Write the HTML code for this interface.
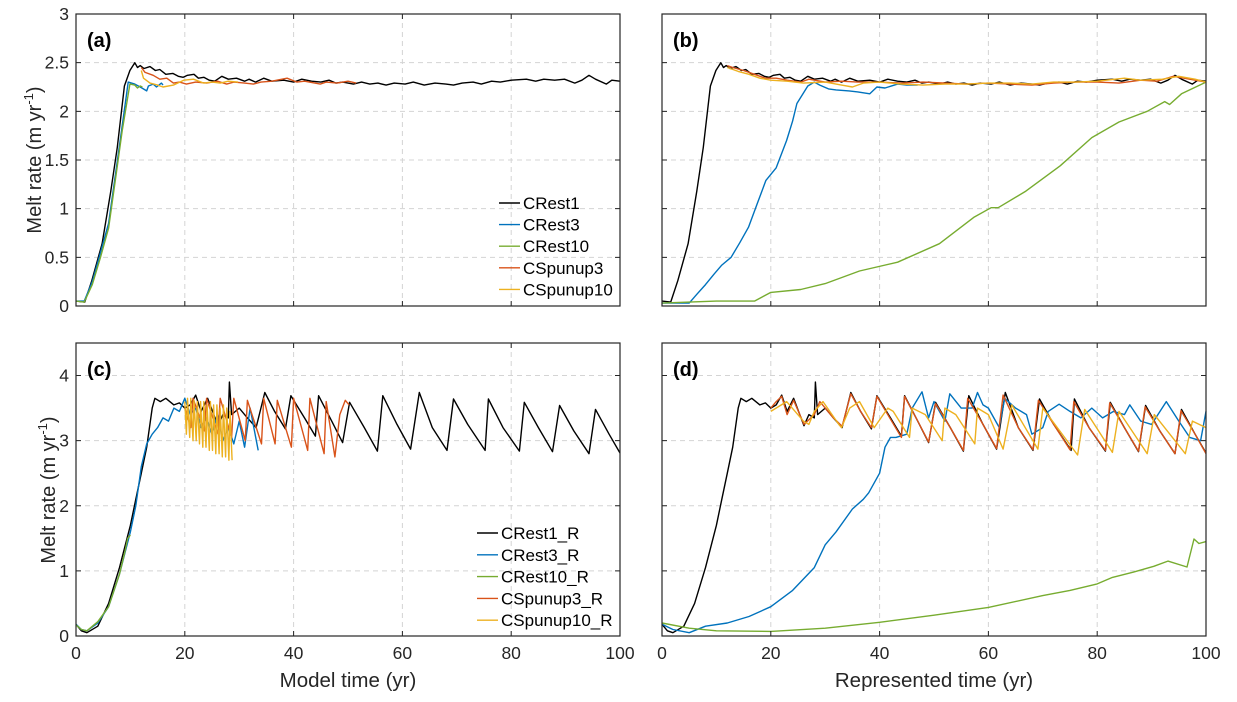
<!DOCTYPE html>
<html><head><meta charset="utf-8"><style>
html,body{margin:0;padding:0;background:#fff;}
svg{display:block;font-family:"Liberation Sans",Arial,sans-serif;}
</style></head><body>
<svg id="fig" width="1237" height="702" viewBox="0 0 1237 702" xmlns="http://www.w3.org/2000/svg">
<rect x="0" y="0" width="1237" height="702" fill="#fff"/>
<g id="grids"></g>
<g id="series"></g>
<g id="axes"></g>
<text transform="translate(41,160) rotate(-90)" text-anchor="middle" font-size="20" fill="#262626">Melt rate (m yr<tspan dy="-8" font-size="13">-1</tspan><tspan dy="8">)</tspan></text>
<text transform="translate(55,490) rotate(-90)" text-anchor="middle" font-size="20" fill="#262626">Melt rate (m yr<tspan dy="-8" font-size="13">-1</tspan><tspan dy="8">)</tspan></text>
<text x="348" y="687" text-anchor="middle" font-size="20.5" fill="#262626">Model time (yr)</text>
<text x="934" y="687" text-anchor="middle" font-size="20.5" fill="#262626">Represented time (yr)</text>
<text x="87" y="47" font-size="20" font-weight="bold" fill="#000">(a)</text>
<text x="673" y="47" font-size="20" font-weight="bold" fill="#000">(b)</text>
<text x="87" y="376" font-size="20" font-weight="bold" fill="#000">(c)</text>
<text x="673" y="376" font-size="20" font-weight="bold" fill="#000">(d)</text>
<g id="legends"></g>
</svg>
<script>
// ---- data ----
const xTicks = [0,20,40,60,80,100];
const xTickLabels = ["0","20","40","60","80","100"];
const yTicksTop = [0,0.5,1,1.5,2,2.5,3];
const yTickLabelsTop = ["0","0.5","1","1.5","2","2.5","3"];
const yTicksBottom = [0,1,2,3,4];
const yTickLabelsBottom = ["0","1","2","3","4"];
const legendTop = ["CRest1","CRest3","CRest10","CSpunup3","CSpunup10"];
const legendBottom = ["CRest1_R","CRest3_R","CRest10_R","CSpunup3_R","CSpunup10_R"];

const cRest1 = [[0,0.05],[1.6,0.04],[2.9,0.26],[4.8,0.64],[6.4,1.18],[7.6,1.63],[8.9,2.26],[9.9,2.42],[10.8,2.5],[11.3,2.45],[11.8,2.47],[12.5,2.44],[13.6,2.46],[14.6,2.42],[15.4,2.43],[16.5,2.38],[17.8,2.39],[18.8,2.36],[19.7,2.35],[20.5,2.37],[21.7,2.38],[22.5,2.34],[23.5,2.35],[24.5,2.32],[25.5,2.31],[26.8,2.36],[28,2.33],[29.5,2.34],[31,2.31],[31.8,2.33],[33,2.3],[34.5,2.34],[36,2.31],[38.2,2.32],[40,2.3],[41.5,2.33],[43.3,2.31],[45,2.3],[46.5,2.32],[47.8,2.29],[49,2.3],[51,2.28],[52.5,2.3],[54,2.28],[55.5,2.29],[57,2.27],[58.5,2.29],[60.5,2.28],[62,2.3],[64,2.27],[66,2.29],[68,2.28],[69.4,2.27],[71,2.29],[73,2.3],[74.5,2.28],[76.4,2.31],[78,2.3],[80,2.32],[82.8,2.33],[84.5,2.31],[86,2.33],[88,2.32],[89.8,2.33],[91.7,2.29],[93,2.32],[94.3,2.37],[95.5,2.33],[97.5,2.28],[98.5,2.32],[100,2.31]];
const cRest3A = [[0,0.05],[1.5,0.05],[3,0.25],[4.5,0.55],[6,0.85],[7.5,1.45],[8.5,1.85],[9.6,2.3],[10.8,2.28],[11.8,2.25],[13,2.21],[13.3,2.26],[14.2,2.28],[14.8,2.25],[15.7,2.29],[16,2.27]];
const cRest10A = [[0,0.05],[1.5,0.04],[3,0.22],[4.5,0.5],[6,0.8],[7.5,1.4],[8.5,1.8],[9.9,2.28],[10.8,2.27],[11.3,2.24],[11.8,2.26],[12.2,2.25]];
const cSpunup3A = [[12,2.45],[12.7,2.4],[14.2,2.37],[15.4,2.33],[16.7,2.34],[17.9,2.29],[19,2.3],[20.3,2.28],[22,2.3],[24,2.29],[26,2.31],[27.7,2.28],[29,2.3],[31,2.29],[32.6,2.28],[34,2.3],[36,2.31],[38.8,2.34],[40.6,2.3],[42,2.31],[44.9,2.28],[46,2.3],[48,2.29],[50,2.31],[51.5,2.29]];
const cSpunup10A = [[12,2.42],[12.4,2.34],[13.6,2.29],[15,2.27],[16,2.25],[17.9,2.27],[19.8,2.32],[21.6,2.33],[23.5,2.29],[25,2.3],[26.5,2.29],[28,2.31],[29.8,2.3]];
const cRest3B = [[0,0.03],[5,0.03],[6.4,0.12],[8,0.22],[9.6,0.33],[11,0.42],[12.7,0.5],[14.3,0.65],[15.9,0.81],[17.5,1.05],[19.1,1.29],[21,1.42],[22.9,1.7],[24,1.9],[24.8,2.08],[26.8,2.26],[28,2.3],[29,2.27],[30.6,2.23],[32,2.22],[34.4,2.21],[36,2.2],[38.2,2.18],[39.5,2.25],[41,2.24],[43.3,2.28],[45,2.27],[47,2.27]];
const cRest10B = [[0,0.03],[10,0.05],[17,0.05],[20,0.14],[25.5,0.17],[30,0.23],[36.3,0.36],[43.3,0.45],[51,0.64],[57.3,0.91],[60.5,1.01],[61.8,1.01],[66.9,1.18],[73.2,1.44],[79,1.73],[84,1.89],[89.2,2.0],[92.4,2.1],[93.3,2.07],[95.5,2.18],[100,2.3]];
const cSpunup3B = [[12,2.47],[13,2.45],[15,2.42],[17,2.38],[19,2.34],[21,2.34],[23,2.32],[25.5,2.3],[27,2.33],[30,2.3],[33,2.31],[36,2.3],[40,2.3],[44,2.29],[48,2.3],[52,2.29],[56,2.28],[60,2.29],[64,2.28],[68,2.27],[72,2.29],[76,2.3],[80,2.3],[84,2.29],[88,2.32],[91,2.31],[94,2.36],[97,2.33],[100,2.3]];
const cSpunup10B = [[12,2.45],[14,2.41],[16,2.38],[18,2.34],[20,2.32],[23,2.31],[26,2.29],[30,2.3],[33,2.27],[35,2.25],[37,2.29],[40,2.3],[44,2.28],[48,2.27],[52,2.28],[56,2.28],[60,2.29],[64,2.29],[68,2.28],[72,2.3],[76,2.3],[80,2.31],[85,2.34],[88,2.32],[92,2.33],[95,2.36],[98,2.33],[100,2.3]];

const cRest1R = [[0,0.18],[1,0.08],[2,0.05],[4,0.15],[6,0.5],[8,1.05],[10,1.7],[11,2.1],[12,2.5],[13,2.9],[14,3.5],[14.5,3.65],[15.5,3.6],[16.5,3.65],[18,3.55],[19,3.58],[20,3.5],[21,3.55],[22,3.7],[23,3.45],[24.2,3.65],[26.1,3.23],[27,3.4],[28,3.35],[28.2,3.9],[28.6,3.4],[30,3.5],[31.5,3.35],[33.1,3.2],[34.7,3.74],[36.5,3.45],[38.5,3.18],[39.5,3.69],[42,3.35],[44,3.07],[44.6,3.69],[47,3.3],[49,2.97],[50.3,3.59],[53,3.2],[55.4,2.84],[56.4,3.69],[59,3.25],[61.5,2.87],[63.1,3.74],[65.5,3.2],[68.2,2.85],[69.4,3.64],[72,3.25],[75.2,2.85],[75.8,3.64],[78.5,3.2],[81.5,2.84],[82.4,3.59],[85,3.2],[87.6,2.83],[88.9,3.54],[91.5,3.15],[94.3,2.8],[95.5,3.48],[98,3.1],[100,2.81]];
const cRest3RC = [[0,0.18],[1,0.1],[2,0.08],[4,0.2],[6,0.45],[8,0.95],[10,1.6],[11,2.0],[12,2.6],[13,2.95],[14,3.1],[15,3.2],[16,3.35],[17,3.3],[18,3.5],[19,3.45],[20,3.65],[21,3.4],[22,3.5],[23,3.2],[24,3.35],[25,3.1],[26,3.4],[27,3.0],[28,3.2],[29,2.95],[30,3.3],[31,2.9],[32,3.5],[33.5,2.85]];
const cRest10RC = [[0,0.17],[1,0.1],[2,0.08],[4,0.22],[6,0.45],[8,0.95],[9,1.3],[9.5,1.5],[10,1.55]];
const cSpunup3RC = [[20,3.5],[21.1,3.2],[21.5,3.65],[23.6,3.15],[24,3.65],[26.1,3.1],[26.5,3.65],[28.6,3.05],[29,3.65],[31.1,3.0],[31.5,3.62],[34.1,2.95],[34.5,3.65],[36.6,2.95],[37,3.62],[39.6,2.9],[40,3.65],[42.6,2.85],[43,3.65],[45.6,2.8],[46,3.6],[47.6,2.75],[48.5,3.4],[49.5,3.62],[50.2,3.55]];
const cSpunup10RC = [[20,3.6],[20.3,3.1],[20.5,3.65],[20.9,3.05],[21.1,3.65],[21.5,3.0],[21.7,3.62],[22.1,3.0],[22.3,3.6],[22.7,2.95],[22.9,3.6],[23.3,2.9],[23.5,3.6],[23.9,2.9],[24.1,3.55],[24.5,2.85],[24.7,3.6],[25.1,2.85],[25.3,3.55],[25.7,2.8],[25.9,3.55],[26.3,2.8],[26.5,3.5],[26.9,2.75],[27.1,3.55],[27.5,2.75],[27.7,3.5],[28.1,2.7],[28.3,3.45],[28.7,2.7]];
const cRest3RD = [[0,0.18],[2,0.1],[5,0.05],[8,0.15],[12,0.2],[16,0.3],[20,0.45],[24,0.7],[28,1.05],[30,1.4],[32,1.6],[35,1.95],[37,2.1],[38,2.2],[40,2.5],[41,2.9],[42,3.05],[43,3.05],[45,3.1],[46,3.5],[47.8,3.75],[49,3.35],[50,3.6],[52,3.3],[52.9,3.72],[55,3.5],[57,3.5],[58,3.74],[59,3.55],[60,3.5],[62,3.2],[63,3.65],[65,3.5],[67,3.4],[68,3.1],[70,3.2],[71,3.45],[73,3.56],[75,3.45],[77,3.35],[79,3.5],[81,3.35],[83,3.45],[85,3.4],[86,3.55],[88,3.3],[90,3.25],[92.7,3.6],[95,3.3],[97,3.05],[99,3.0],[100,3.45]];
const cRest10RD = [[0,0.2],[5,0.12],[10,0.08],[20,0.07],[30,0.12],[40,0.21],[50,0.32],[60,0.44],[70,0.62],[75,0.7],[80,0.8],[82.8,0.9],[86.6,0.98],[90.4,1.07],[93,1.15],[96.5,1.06],[97.8,1.49],[98.7,1.42],[100,1.45]];
const cSpunup3RD = [[20,3.5],[21,3.6],[22,3.68],[23,3.4],[24.2,3.62],[26.1,3.25],[28,3.4],[29,3.6],[31.5,3.35],[33.1,3.22],[34.7,3.72],[36.5,3.45],[38.5,3.2],[39.5,3.68],[42,3.33],[44,3.05],[44.6,3.68],[47,3.3],[49,2.98],[50.3,3.57],[53,3.2],[55.4,2.85],[56.2,3.65],[59,3.25],[61.5,2.88],[62.7,3.7],[65.5,3.2],[68.2,2.86],[69.2,3.62],[72,3.25],[75,2.86],[75.7,3.6],[78.5,3.2],[81.5,2.85],[82.3,3.58],[85,3.2],[87.6,2.84],[88.8,3.52],[91.5,3.15],[94.3,2.8],[95.4,3.46],[98,3.1],[100,2.8]];
const cSpunup10RD = [[20,3.45],[22.9,3.6],[26,3.3],[27,3.25],[28,3.45],[29.6,3.6],[32.5,3.25],[33,3.2],[34.5,3.5],[36.3,3.6],[39,3.2],[41.5,3.5],[42.5,3.45],[45.5,3.05],[46,3.5],[48.4,3.4],[51.5,3.0],[52,3.5],[54,3.4],[57.5,2.95],[58,3.5],[60,3.4],[62.7,2.87],[64.3,3.55],[69.1,2.87],[70,3.5],[76.4,2.78],[77.7,3.48],[82.8,2.82],[84,3.45],[89.2,2.8],[90.5,3.4],[96.2,2.8],[97.5,3.3],[100,3.2]];

const colors = ["#000000","#0072BD","#77AC30","#D95319","#EDB120"];
// ---- layout ----
const NS = "http://www.w3.org/2000/svg";
const panels = [
  {id:"a", x0:76, x1:620, y0:14, y1:306, ymax:3, yt:yTicksTop, ytl:yTickLabelsTop, showY:true, showX:false, series:[cRest1,cRest3A,cRest10A,cSpunup3A,cSpunup10A]},
  {id:"b", x0:662, x1:1206, y0:14, y1:306, ymax:3, yt:yTicksTop, ytl:yTickLabelsTop, showY:false, showX:false, series:[cRest1,cRest3B,cRest10B,cSpunup3B,cSpunup10B]},
  {id:"c", x0:76, x1:620, y0:343, y1:636, ymax:4.5, yt:yTicksBottom, ytl:yTickLabelsBottom, showY:true, showX:true, series:[cRest1R,cRest3RC,cRest10RC,cSpunup3RC,cSpunup10RC]},
  {id:"d", x0:662, x1:1206, y0:343, y1:636, ymax:4.5, yt:yTicksBottom, ytl:yTickLabelsBottom, showY:false, showX:true, series:[cRest1R,cRest3RD,cRest10RD,cSpunup3RD,cSpunup10RD]}
];
const gG = document.getElementById("grids"), gS = document.getElementById("series"), gA = document.getElementById("axes"), gL = document.getElementById("legends");
function mk(tag, attrs, parent){const e=document.createElementNS(NS,tag);for(const k in attrs)e.setAttribute(k,attrs[k]);parent.appendChild(e);return e;}
panels.forEach(p=>{
  const sx = v => p.x0 + (v/100)*(p.x1-p.x0);
  const sy = v => p.y1 - (v/p.ymax)*(p.y1-p.y0);
  xTicks.forEach((t,i)=>{
    if(t>0 && t<100){
      const g=mk("line",{x1:sx(t),x2:sx(t),y1:p.y0,y2:p.y1,stroke:"#d4d4d4","stroke-width":1,"stroke-dasharray":"5,4"},gG);
      
      
    }
    const tk=mk("path",{d:`M${sx(t)},${p.y1}v-5M${sx(t)},${p.y0}v5`,stroke:"#262626","stroke-width":1},gA);
    
    
    if(p.showX){
      const l=mk("text",{x:sx(t),y:p.y1+23,"text-anchor":"middle","font-size":17.5,fill:"#262626"},gA);
      l.textContent=xTickLabels[i];
      
      
    }
  });
  p.yt.forEach((v,i)=>{
    if(v>0 && v<p.ymax){
      const g=mk("line",{x1:p.x0,x2:p.x1,y1:sy(v),y2:sy(v),stroke:"#d4d4d4","stroke-width":1,"stroke-dasharray":"5,4"},gG);
      
      
    }
    const tk=mk("path",{d:`M${p.x0},${sy(v)}h5M${p.x1},${sy(v)}h-5`,stroke:"#262626","stroke-width":1},gA);
    
    
    if(p.showY){
      const l=mk("text",{x:p.x0-7,y:sy(v)+6,"text-anchor":"end","font-size":17.5,fill:"#262626"},gA);
      l.textContent=p.ytl[i];
      
      
    }
  });
  const box=mk("rect",{x:p.x0,y:p.y0,width:p.x1-p.x0,height:p.y1-p.y0,fill:"none",stroke:"#262626","stroke-width":1.2},gA);
  
  
  p.series.forEach((s,k)=>{
    const pts=s.map(d=>sx(d[0]).toFixed(1)+","+sy(d[1]).toFixed(1)).join(" ");
    const pl=mk("polyline",{points:pts,fill:"none",stroke:colors[k],"stroke-width":1.4,"stroke-linejoin":"round"},gS);
    
    
  });
});
function legend(names, lx, ty, dy){
  names.forEach((n,k)=>{
    const y=ty+k*dy;
    const ln=mk("line",{x1:lx,x2:lx+21,y1:y,y2:y,stroke:colors[k],"stroke-width":1.4},gL);
    
    
    const t=mk("text",{x:lx+24,y:y+6,"font-size":17,fill:"#000"},gL);
    t.textContent=n;
    
    
  });
}
legend(legendTop, 499, 203, 21.6);
legend(legendBottom, 477, 533, 21.8);
</script>
</body></html>
